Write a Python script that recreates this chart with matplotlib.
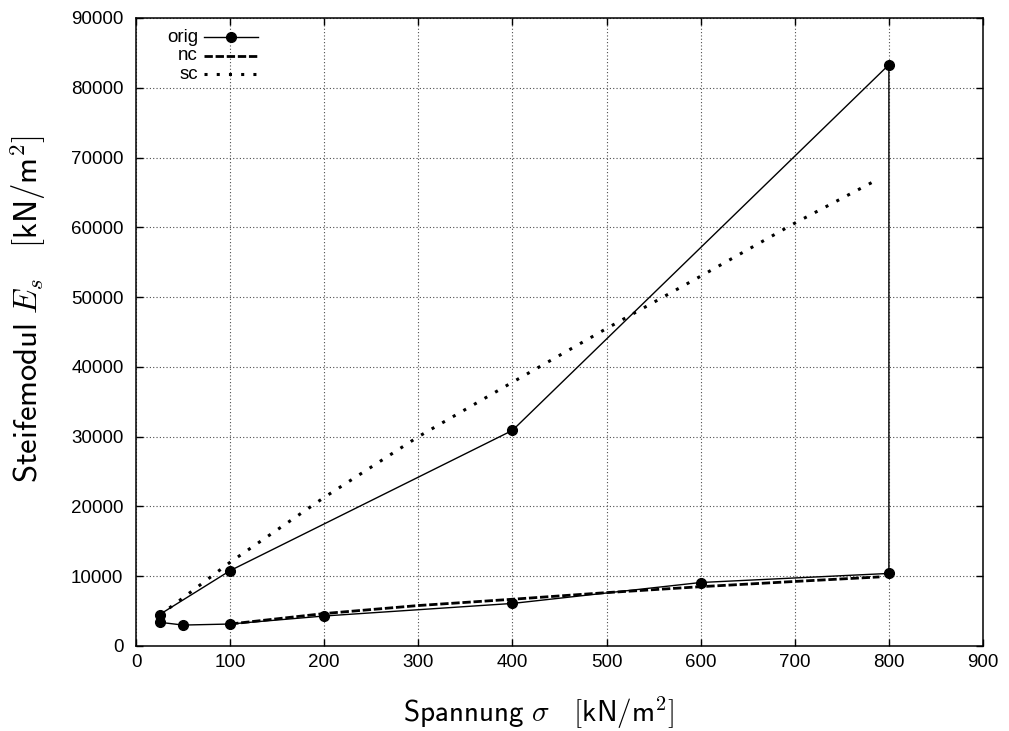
import numpy as np
import matplotlib
matplotlib.use('Agg')
import matplotlib.pyplot as plt

# Data
orig_sigma = [25, 50, 100, 200, 400, 600, 800, 800, 400, 100, 25]
orig_es = [3400, 3000, 3150, 4300, 6100, 9100, 10400, 83300, 30900, 10800, 4500]

nc_sigma = [100, 200, 300, 400, 500, 600, 700, 790]
nc_es = [3150, 4650, 5800, 6700, 7650, 8500, 9250, 9900]

sc_sigma = [25, 50, 100, 200, 300, 400, 500, 600, 700, 790]
sc_es = [4400, 6900, 12000, 21300, 30000, 37800, 45500, 53000, 60600, 67000]

x_ticks = list(range(0, 1000, 100))
y_ticks = list(range(0, 100000, 10000))

plt.rcParams['font.family'] = ['Liberation Sans', 'DejaVu Sans']
plt.rcParams['mathtext.fontset'] = 'cm'

fig = plt.figure(figsize=(10.09, 7.31), dpi=100)
ax = fig.add_axes([136 / 1009, 85 / 731, 847 / 1009, 628 / 731])

ax.plot(orig_sigma, orig_es, color='black', lw=1.0, marker='o', ms=7)
ax.plot(nc_sigma, nc_es, color='black', lw=2.0, linestyle=(0, (3, 1)))
ax.plot(sc_sigma, sc_es, color='black', lw=2.2, linestyle=(0, (1, 3)))

ax.set_xlim(0, 900)
ax.set_ylim(0, 90000)
ax.set_xticks(x_ticks)
ax.set_yticks(y_ticks)
ax.grid(True, color='0.3', linestyle=(0, (1, 2)), lw=0.8)
ax.tick_params(direction='in', length=5, width=1.0, top=True, right=True, labelsize=13.5)
ax.tick_params(axis='x', pad=6)
ax.tick_params(axis='y', pad=9)
for s in ax.spines.values():
    s.set_linewidth(1.1)

# gnuplot style key: label right aligned, sample to the right
tr = ax.transAxes
key = [('orig', dict(lw=1.0, linestyle='-')),
       ('nc', dict(lw=2.0, linestyle=(0, (3, 1)))),
       ('sc', dict(lw=2.2, linestyle=(0, (1, 3))))]
for i, (lab, st) in enumerate(key):
    yk = 0.9697 - i * 0.0295
    ax.text(0.0732, yk, lab, transform=tr, ha='right', va='center', fontsize=13.5)
    ax.plot([0.0803, 0.144], [yk, yk], transform=tr, color='black', clip_on=False, **st)
    if lab == 'orig':
        ax.plot([0.112], [yk], transform=tr, color='black', marker='o', ms=7)

fig.text(539 / 1009, 1 - 713 / 731, r'$\mathsf{Spannung}\ \sigma\quad[\mathsf{kN/m}^2]$',
         ha='center', va='center', fontsize=21)
fig.text(28 / 1009, 1 - 309 / 731, r'$\mathsf{Steifemodul}\ E_s\quad[\mathsf{kN/m}^2]$',
         ha='center', va='center', rotation=90, fontsize=23.5)

fig.savefig('out.png', dpi=100)
